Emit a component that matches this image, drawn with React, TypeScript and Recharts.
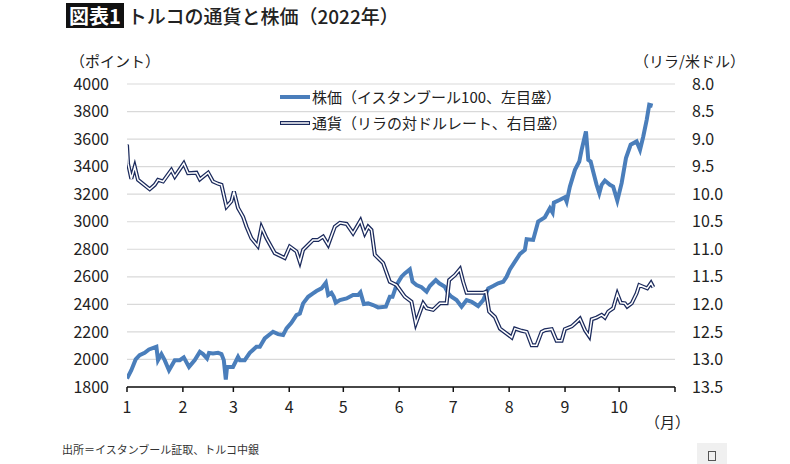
import { LineChart, Line, XAxis, YAxis, CartesianGrid, Legend } from "recharts";

// day of year 2022 (0 = Jan 1), month starts used as ticks
const monthTicks = [0, 31, 59, 90, 120, 151, 181, 212, 243, 273, 304];
const monthLabels = ["1", "2", "3", "4", "5", "6", "7", "8", "9", "10", ""];
const leftTicks = [1800, 2000, 2200, 2400, 2600, 2800, 3000, 3200, 3400, 3600, 3800, 4000];
const rightTicks = [8, 8.5, 9, 9.5, 10, 10.5, 11, 11.5, 12, 12.5, 13, 13.5];

// BIST100
const stockDays = [
  0, 2.4, 4.8, 7, 9.8, 12.2, 16.3, 17.2, 19.1, 20.9, 23.3, 26.5, 29.3, 31.5, 34.4, 37.6, 40.4, 42.2, 44.4,
  45.5, 47.7, 50.5, 52.4, 53.7, 54.8, 55.5, 58.8, 61.6, 62.6, 65.3, 68.1, 71.8, 73.7, 76.4, 81, 83.8, 86.6,
  88.5, 91.2, 94, 95.9, 97.7, 100.5, 103.2, 105.1, 107.9, 110.3, 111.6, 113.4, 114.7, 115.8, 118.1, 121.8,
  125.4, 128.2, 129.5, 131.4, 133.8, 136.5, 139.3, 143.6, 145.8, 147.3, 149.5, 152.3, 154.1, 156.9, 158.4,
  160.6, 163.4, 166.2, 168, 171.3, 173.2, 176.3, 178.2, 180, 182.8, 185.6, 188.4, 191.2, 194.8, 197.6, 200.4,
  203.1, 205.9, 208.7, 210.6, 212.4, 215.2, 218, 220.7, 221.7, 225.3, 228.1, 231.8, 234.6, 236.1, 236.8,
  240.2, 242.9, 243.9, 245.7, 248.5, 250.9, 252.2, 254.6, 255.9, 257.2, 258.6, 260.5, 262, 263.3, 265.1,
  267.9, 269.7, 272, 274.4, 276.8, 279.4, 282.7, 284.6, 286.4, 288.3, 289.7, 291.6,
];
const stockValues = [
  1862, 1922, 2000, 2031, 2048, 2073, 2092, 1995, 2039, 1995, 1922, 1995, 1995, 2015, 1946, 1995, 2055, 2039, 2007,
  2048, 2044, 2048, 2039, 1995, 1855, 1946, 1946, 2019, 1995, 1995, 2048, 2092, 2092, 2153, 2201, 2184, 2177,
  2226, 2266, 2322, 2334, 2407, 2455, 2480, 2497, 2516, 2557, 2468, 2484, 2455, 2412, 2431, 2443,
  2468, 2468, 2487, 2402, 2407, 2395, 2378, 2383, 2455, 2455, 2540, 2601, 2625, 2654, 2564,
  2540, 2524, 2492, 2533, 2577, 2553, 2528, 2480, 2455, 2431, 2383, 2431, 2419, 2388, 2431, 2516,
  2533, 2553, 2564, 2601, 2654, 2710, 2766, 2795, 2873, 2868, 3001, 3032, 3098, 3066, 3139,
  3159, 3178, 3146, 3255, 3377, 3437, 3522, 3655, 3449, 3437, 3364, 3268, 3207, 3268, 3299,
  3268, 3255, 3153, 3280, 3462, 3559, 3583, 3522, 3619, 3740, 3849, 3842,
];

// lira per US dollar
const fxDays = [
  0, 0.6, 2.4, 4.3, 6.1, 12.6, 15.4, 17.2, 20, 24.6, 26.5, 31.5, 33.9, 38.5, 40.4, 45, 47.7, 50.5, 52.4, 55.2,
  57.9, 59.3, 61.6, 64.4, 66.3, 69, 72.5, 74.6, 77.4, 82, 87.5, 90.3, 94, 95.9, 97.7, 103.2, 106, 108.8, 111.6,
  115.3, 118.1, 121.8, 125.4, 129.5, 131.9, 133.8, 135.6, 137.5, 142.1, 145.8, 149.5, 154.1, 157.8, 160.2,
  164.3, 166.2, 169.8, 173.6, 177.3, 178.7, 181.9, 184.7, 186.5, 188.4, 197.6, 199.1, 200.9, 204.1, 206.9,
  210.6, 213.4, 215.2, 218.9, 221.7, 224.5, 227.2, 230, 231.8, 235.6, 238.3, 241.1, 242.9, 246.7, 249.4,
  251.3, 254.1, 256.4, 257.8, 260.5, 263.3, 265.1, 267, 269.7, 272, 273.9, 276.2, 277.5, 280, 282.7, 284.2,
  286.4, 288.6, 290.7, 292,
];
const fxValues = [
  9.1, 9.45, 9.72, 9.5, 9.74, 9.91, 9.83, 9.74, 9.77, 9.56, 9.68, 9.44, 9.62, 9.61, 9.73, 9.61, 9.77, 9.81, 9.83, 10.23,
  10.13, 9.95, 10.25, 10.41, 10.59, 10.8, 10.94, 10.6, 10.8, 11.07, 11.16, 10.95, 11.04, 11.23, 11.01, 10.83, 10.83, 10.77, 10.92,
  10.59, 10.52, 10.54, 10.71, 10.48, 10.71, 10.59, 10.65, 11.1, 11.25, 11.59, 11.65, 11.86, 11.95, 12.35,
  11.98, 12.07, 12.1, 11.98, 11.98, 11.56, 11.47, 11.36, 11.59, 11.79, 11.79, 11.77, 12.13, 12.23, 12.44,
  12.53, 12.6, 12.44, 12.48, 12.5, 12.74, 12.74, 12.5, 12.47, 12.45, 12.66, 12.66, 12.45, 12.4, 12.32,
  12.26, 12.47, 12.58, 12.27, 12.24, 12.19, 12.24, 12.13, 12.07, 11.81, 11.97, 11.98, 12.04, 11.98, 11.8, 11.65,
  11.68, 11.71, 11.61, 11.69,
];

const stockData = stockDays.map((d, i) => ({ d, v: stockValues[i] }));
const fxData = fxDays.map((d, i) => ({ d, v: fxValues[i] }));

const STOCK = "#4a7ebb";
const NAVY = "#1b2a5c";
const FONT = "'Noto Sans CJK JP', 'Noto Sans', sans-serif";

function LegendBox() {
  return (
    <div style={{ fontSize: 15, color: "#222", lineHeight: "26px" }}>
      <div style={{ display: "flex", alignItems: "center" }}>
        <svg width={34} height={10}>
          <line x1={2} x2={32} y1={5} y2={5} stroke={STOCK} strokeWidth={4} />
        </svg>
        <span>株価（イスタンブール100、左目盛）</span>
      </div>
      <div style={{ display: "flex", alignItems: "center" }}>
        <svg width={34} height={10}>
          <line x1={2} x2={32} y1={5} y2={5} stroke={NAVY} strokeWidth={4} />
          <line x1={3} x2={31} y1={5} y2={5} stroke="#fff" strokeWidth={1.5} />
        </svg>
        <span>通貨（リラの対ドルレート、右目盛）</span>
      </div>
    </div>
  );
}

export default function App() {
  return (
    <div style={{ position: "relative", width: 790, height: 464, background: "#fff", fontFamily: FONT, color: "#222" }}>
      <style>{"body{margin:0}"}</style>

      {/* title */}
      <div style={{ position: "absolute", left: 66, top: 3, display: "flex", alignItems: "center", height: 25 }}>
        <span style={{ background: "#111", color: "#fff", fontSize: 20, fontWeight: 700, padding: "0 3px", lineHeight: "25px" }}>
          図表1
        </span>
        <span style={{ fontSize: 19, fontWeight: 500, marginLeft: 4, lineHeight: "25px" }}>
          トルコの通貨と株価（2022年）
        </span>
      </div>

      <LineChart
        width={790}
        height={464}
        margin={{ top: 84, right: 0, bottom: 47, left: 0 }}
        style={{ position: "absolute", left: 0, top: 0 }}
      >
        <CartesianGrid yAxisId="left" vertical={false} stroke="#d9d9d9" strokeWidth={1.2} />
        <XAxis
          dataKey="d"
          type="number"
          domain={[0, 304]}
          ticks={monthTicks}
          tickFormatter={(t) => monthLabels[monthTicks.indexOf(t)]}
          axisLine={{ stroke: "#111", strokeWidth: 1.5 }}
          tickLine={{ stroke: "#111", strokeWidth: 1.5 }}
          tickSize={5}
          tickMargin={10}
          height={30}
          tick={{ fill: "#222", fontSize: 16 }}
          allowDataOverflow
        />
        <YAxis
          yAxisId="left"
          domain={[1800, 4000]}
          ticks={leftTicks}
          width={127}
          axisLine={false}
          tickLine={false}
          tickMargin={12}
          tick={{ fill: "#222", fontSize: 16 }}
        />
        <YAxis
          yAxisId="right"
          orientation="right"
          reversed
          domain={[8, 13.5]}
          ticks={rightTicks}
          tickFormatter={(t) => t.toFixed(1)}
          width={115}
          axisLine={false}
          tickLine={false}
          tickMargin={11}
          tick={{ fill: "#222", fontSize: 16 }}
        />
        <Legend
          layout="horizontal"
          verticalAlign="middle"
          align="center"
          wrapperStyle={{ left: 278, top: 84, width: 300 }}
          content={() => <LegendBox />}
        />
        <Line
          yAxisId="left"
          data={stockData}
          dataKey="v"
          type="linear"
          stroke={STOCK}
          strokeWidth={4}
          dot={false}
          isAnimationActive={false}
        />
        <Line
          yAxisId="right"
          data={fxData}
          dataKey="v"
          type="linear"
          stroke={NAVY}
          strokeWidth={4}
          dot={false}
          isAnimationActive={false}
        />
        <Line
          yAxisId="right"
          data={fxData}
          dataKey="v"
          type="linear"
          stroke="#fff"
          strokeWidth={1.5}
          dot={false}
          isAnimationActive={false}
        />
      </LineChart>

      {/* axis unit labels */}
      <div style={{ position: "absolute", left: 70, top: 50, fontSize: 15 }}>（ポイント）</div>
      <div style={{ position: "absolute", left: 634, top: 50, fontSize: 15 }}>（リラ/米ドル）</div>
      <div style={{ position: "absolute", left: 645, top: 411, fontSize: 15 }}>（月）</div>

      {/* source */}
      <div style={{ position: "absolute", left: 62, top: 441, fontSize: 11, color: "#333" }}>
        出所＝イスタンブール証取、トルコ中銀
      </div>

      <div
        style={{
          position: "absolute",
          left: 697,
          top: 443,
          width: 30,
          height: 21,
          background: "#f0f0f0",
          display: "flex",
          alignItems: "flex-end",
          justifyContent: "center",
        }}
      >
        <div style={{ width: 6, height: 8, border: "1px solid #555", marginBottom: 3 }} />
      </div>
    </div>
  );
}
